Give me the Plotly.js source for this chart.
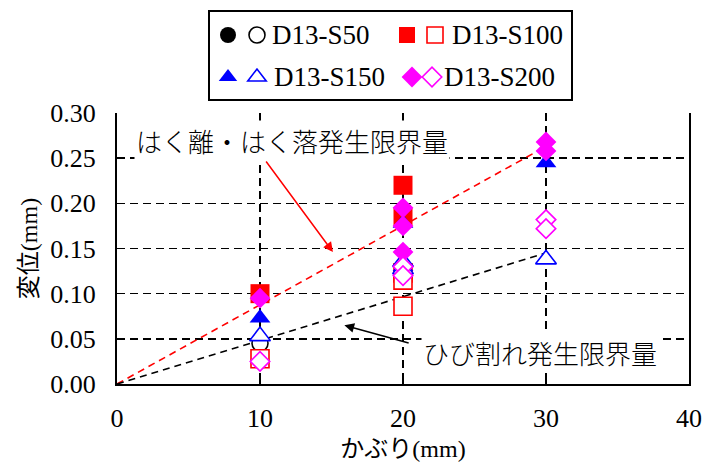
<!DOCTYPE html>
<html>
<head>
<meta charset="utf-8">
<script src="https://cdn.plot.ly/plotly-3.0.1.min.js"></script>
<style>html,body{margin:0;padding:0;background:#fff}#chart{width:706px;height:463px}</style>
</head>
<body>
<div id="chart"></div>
<script>
// ---- data ----
const seriesNames = ["D13-S50", "D13-S100", "D13-S150", "D13-S200"];
const s50FilledX = [10, 20];
const s50FilledY = [0.10, 0.185];
const s50OpenX = [10, 20];
const s50OpenY = [0.045, 0.12];
const s100FilledX = [10, 20, 20];
const s100FilledY = [0.10, 0.22, 0.185];
const s100OpenX = [10, 20, 20, 20];
const s100OpenY = [0.028, 0.123, 0.115, 0.086];
const s150FilledX = [10, 20, 20, 30];
const s150FilledY = [0.073, 0.178, 0.13, 0.245];
const s150OpenX = [10, 20, 20, 30];
const s150OpenY = [0.053, 0.135, 0.127, 0.138];
const s200FilledX = [10, 20, 20, 20, 30, 30];
const s200FilledY = [0.095, 0.195, 0.175, 0.146, 0.268, 0.258];
const s200OpenX = [10, 20, 20, 30, 30];
const s200OpenY = [0.025, 0.13, 0.12, 0.182, 0.172];
const crackLimitX = [0, 30];
const crackLimitY = [0, 0.145];
const spallLimitX = [0, 30];
const spallLimitY = [0, 0.263];
const xTicks = [0, 10, 20, 30, 40];
const yTicks = [0, 0.05, 0.10, 0.15, 0.20, 0.25, 0.30];
const xTitle = "かぶり(mm)";
const yTitle = "変位(mm)";
const spallLabel = "はく離・はく落発生限界量";
const crackLabel = "ひび割れ発生限界量";

// ---- styling ----
const serif = "'Liberation Serif', 'Times New Roman', 'Noto Sans CJK JP', serif";
const jp = "'Noto Sans CJK JP', sans-serif";

function filled(x, y, sym, color, size, leg) {
  return {x: x, y: y, type: 'scatter', mode: 'markers', name: ' ', legend: leg, showlegend: true,
    marker: {symbol: sym, color: color, size: size, line: {width: 0}}, cliponaxis: false};
}
function open(x, y, sym, color, size, leg) {
  return {x: x, y: y, type: 'scatter', mode: 'markers', name: ' ', legend: leg, showlegend: true,
    marker: {symbol: sym, color: '#ffffff', size: size, line: {width: 1.6, color: color}}, cliponaxis: false};
}

const traces = [
  {x: spallLimitX, y: spallLimitY, type: 'scatter', mode: 'lines', showlegend: false,
    line: {color: '#ff0000', width: 1.6, dash: '7px,5px'}},
  {x: crackLimitX, y: crackLimitY, type: 'scatter', mode: 'lines', showlegend: false,
    line: {color: '#000000', width: 1.6, dash: '7px,5px'}},
  filled(s50FilledX, s50FilledY, 'circle', '#000000', 17, 'legend'),
  open(s50OpenX, s50OpenY, 'circle', '#000000', 16, 'legend2'),
  filled(s100FilledX, s100FilledY, 'square', '#ff0000', 19, 'legend3'),
  open(s100OpenX, s100OpenY, 'square', '#ff0000', 18, 'legend4'),
  filled(s150FilledX, s150FilledY, 'triangle-up', '#0000ff', 18, 'legend5'),
  open(s150OpenX, s150OpenY, 'triangle-up', '#0000ff', 18, 'legend6'),
  filled(s200FilledX, s200FilledY, 'diamond', '#ff00ff', 16, 'legend7'),
  open(s200OpenX, s200OpenY, 'diamond', '#ff00ff', 15, 'legend8')
];

const L = 117, R = 17, T = 113, B = 79, W = 706, H = 463;
const pw = W - L - R, ph = H - T - B;
const px = v => (v - L) / pw;
const py = v => (H - B - v) / ph;

function leg(cx, cy) {
  return {x: px(cx - 20), y: py(cy), xanchor: 'left', yanchor: 'middle', bgcolor: 'rgba(0,0,0,0)',
    borderwidth: 0, font: {size: 10, family: serif}, itemsizing: 'trace', orientation: 'v'};
}

const legendLabelFont = {family: serif, size: 27, color: '#000'};

const layout = {
  width: W, height: H,
  margin: {l: L, r: R, t: T, b: B},
  paper_bgcolor: '#ffffff', plot_bgcolor: '#ffffff',
  showlegend: true,
  legend: leg(228, 35),
  legend2: leg(257, 35),
  legend3: leg(407, 35),
  legend4: leg(435, 35),
  legend5: leg(228, 77),
  legend6: leg(257, 77),
  legend7: leg(412, 77),
  legend8: leg(432, 77),
  xaxis: {
    range: [0, 40], tickvals: xTicks, ticktext: xTicks.map(String),
    showline: true, linecolor: '#000', linewidth: 2,
    ticks: 'inside', ticklen: 6, tickwidth: 1.5, tickcolor: '#000',
    showgrid: true, gridcolor: '#000', gridwidth: 1.6, griddash: '8px,5px',
    zeroline: false, tickfont: {family: serif, size: 26, color: '#000'},
    ticklabelstandoff: 10,
    title: {text: xTitle, font: {family: serif, size: 24, color: '#000'}, standoff: 8}
  },
  yaxis: {
    range: [0, 0.30], tickvals: yTicks, ticktext: yTicks.map(v => v.toFixed(2)),
    showline: true, linecolor: '#000', linewidth: 2, mirror: true,
    ticks: 'inside', ticklen: 6, tickwidth: 1.5, tickcolor: '#000',
    showgrid: true, gridcolor: '#000', gridwidth: 1.6, griddash: '8px,5px',
    zeroline: false, tickfont: {family: serif, size: 26, color: '#000'},
    ticklabelstandoff: 14,
    title: {text: yTitle, font: {family: serif, size: 24, color: '#000'}, standoff: 6}
  },
  shapes: [
    {type: 'rect', xref: 'paper', yref: 'paper', x0: px(209), x1: px(572), y0: py(100), y1: py(11),
      line: {color: '#000', width: 2}, fillcolor: 'rgba(0,0,0,0)'}
  ],
  annotations: [
    {xref: 'paper', yref: 'paper', x: px(270), y: py(35), xanchor: 'left', yanchor: 'middle',
      text: seriesNames[0], showarrow: false, font: legendLabelFont},
    {xref: 'paper', yref: 'paper', x: px(450), y: py(35), xanchor: 'left', yanchor: 'middle',
      text: seriesNames[1], showarrow: false, font: legendLabelFont},
    {xref: 'paper', yref: 'paper', x: px(272), y: py(77), xanchor: 'left', yanchor: 'middle',
      text: seriesNames[2], showarrow: false, font: legendLabelFont},
    {xref: 'paper', yref: 'paper', x: px(442), y: py(77), xanchor: 'left', yanchor: 'middle',
      text: seriesNames[3], showarrow: false, font: legendLabelFont},
    {xref: 'paper', yref: 'paper', x: px(292), y: py(140), xanchor: 'center', yanchor: 'middle',
      text: spallLabel, showarrow: false, bgcolor: '#ffffff', font: {family: jp, size: 26, color: '#000', weight: 300}},
    {xref: 'paper', yref: 'paper', x: px(540), y: py(352), xanchor: 'center', yanchor: 'middle',
      text: crackLabel, showarrow: false, bgcolor: '#ffffff', font: {family: jp, size: 26, color: '#000', weight: 300}},
    {xref: 'x', yref: 'y', axref: 'x', ayref: 'y', x: 15.1, y: 0.146, ax: 10.35, ay: 0.248,
      text: '', showarrow: true, arrowhead: 2, arrowsize: 1.3, arrowwidth: 1.5, arrowcolor: '#ff0000'},
    {xref: 'x', yref: 'y', axref: 'x', ayref: 'y', x: 15.9, y: 0.065, ax: 20.5, ay: 0.045,
      text: '', showarrow: true, arrowhead: 2, arrowsize: 1.3, arrowwidth: 1.5, arrowcolor: '#000000'}
  ]
};

Plotly.newPlot('chart', traces, layout, {displayModeBar: false, staticPlot: true});
</script>
</body>
</html>
